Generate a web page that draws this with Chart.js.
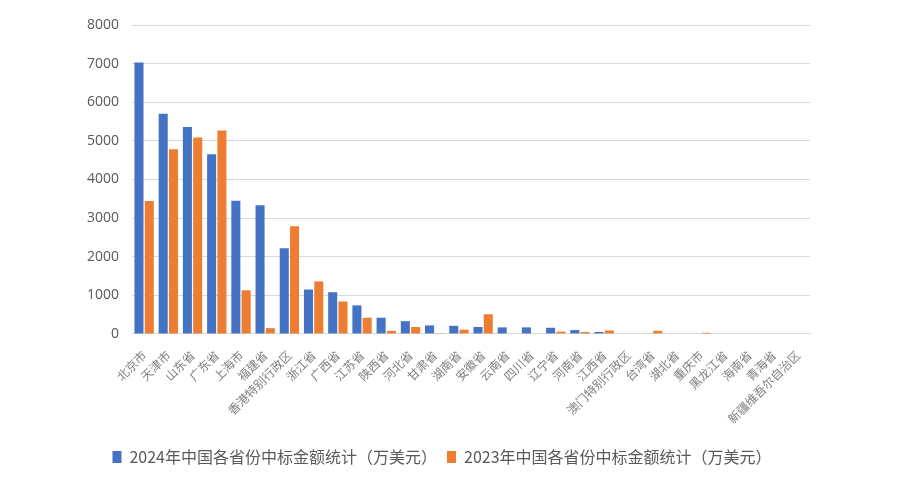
<!DOCTYPE html>
<html lang="zh">
<head>
<meta charset="UTF-8">
<title>中国各省份中标金额统计</title>
<script src="https://cdn.jsdelivr.net/npm/chart.js"></script>
<style>
    body {
        margin: 0;
        background: #fff;
    }
    .wrap {
        width: 900px;
        height: 480px;
        position: relative;
    }
</style>
</head>
<body>
<div class="wrap">
<canvas id="myChart"></canvas>
</div>
<script>
    // 省份
    const provinces = ['北京市', '天津市', '山东省', '广东省', '上海市', '福建省', '香港特别行政区', '浙江省',
        '广西省', '江苏省', '陕西省', '河北省', '甘肃省', '湖南省', '安徽省', '云南省', '四川省', '辽宁省',
        '河南省', '江西省', '澳门特别行政区', '台湾省', '湖北省', '重庆市', '黑龙江省', '海南省', '青海省',
        '新疆维吾尔自治区'];

    // 2024年 (万美元)
    const values2024 = [7030, 5700, 5360, 4650, 3450, 3330, 2220, 1150,
        1080, 740, 420, 330, 220, 210, 180, 170, 170, 160,
        100, 50, 0, 0, 0, 0, 0, 0, 0, 0];

    // 2023年 (万美元)
    const values2023 = [3440, 4780, 5090, 5270, 1130, 150, 2790, 1360,
        840, 420, 80, 180, 20, 110, 510, 0, 0, 60,
        50, 90, 0, 80, 0, 30, 0, 0, 0, 0];

    const label2024 = '2024年中国各省份中标金额统计（万美元）';
    const label2023 = '2023年中国各省份中标金额统计（万美元）';

    const ctx = document.getElementById('myChart').getContext('2d');
    const chart = new Chart(ctx, {
        type: 'bar',
        data: {
            labels: provinces,
            datasets: [{
                label: label2024,
                data: values2024,
                backgroundColor: '#4472C4',
                categoryPercentage: 0.85,
                barPercentage: 0.88
            }, {
                label: label2023,
                data: values2023,
                backgroundColor: '#ED7D31',
                categoryPercentage: 0.85,
                barPercentage: 0.88
            }]
        },
        options: {
            responsive: true,
            maintainAspectRatio: false,
            animation: false,
            layout: {
                padding: {top: 25, right: 90, left: 74, bottom: 5}
            },
            plugins: {
                legend: {
                    position: 'bottom',
                    labels: {
                        boxWidth: 9,
                        boxHeight: 12,
                        padding: 10,
                        color: '#595959',
                        font: {family: '"Noto Sans CJK SC"', size: 16}
                    }
                },
                tooltip: {enabled: false}
            },
            scales: {
                x: {
                    grid: {display: false},
                    border: {display: true, color: '#d9d9d9'},
                    ticks: {
                        minRotation: 45,
                        maxRotation: 45,
                        autoSkip: false,
                        padding: 6,
                        color: '#7f7f7f',
                        font: {family: '"Noto Sans CJK SC"', size: 12}
                    },
                    // 给图例留出空间
                    afterFit: function (scale) {
                        scale.height += 7;
                    }
                },
                y: {
                    min: 0,
                    max: 8000,
                    border: {display: false},
                    grid: {color: '#d9d9d9', drawTicks: false},
                    ticks: {
                        stepSize: 1000,
                        padding: 13,
                        color: '#595959',
                        font: {family: '"Open Sans"', size: 14},
                        callback: function (value) {
                            return String(value);
                        }
                    }
                }
            }
        }
    });
</script>
</body>
</html>
